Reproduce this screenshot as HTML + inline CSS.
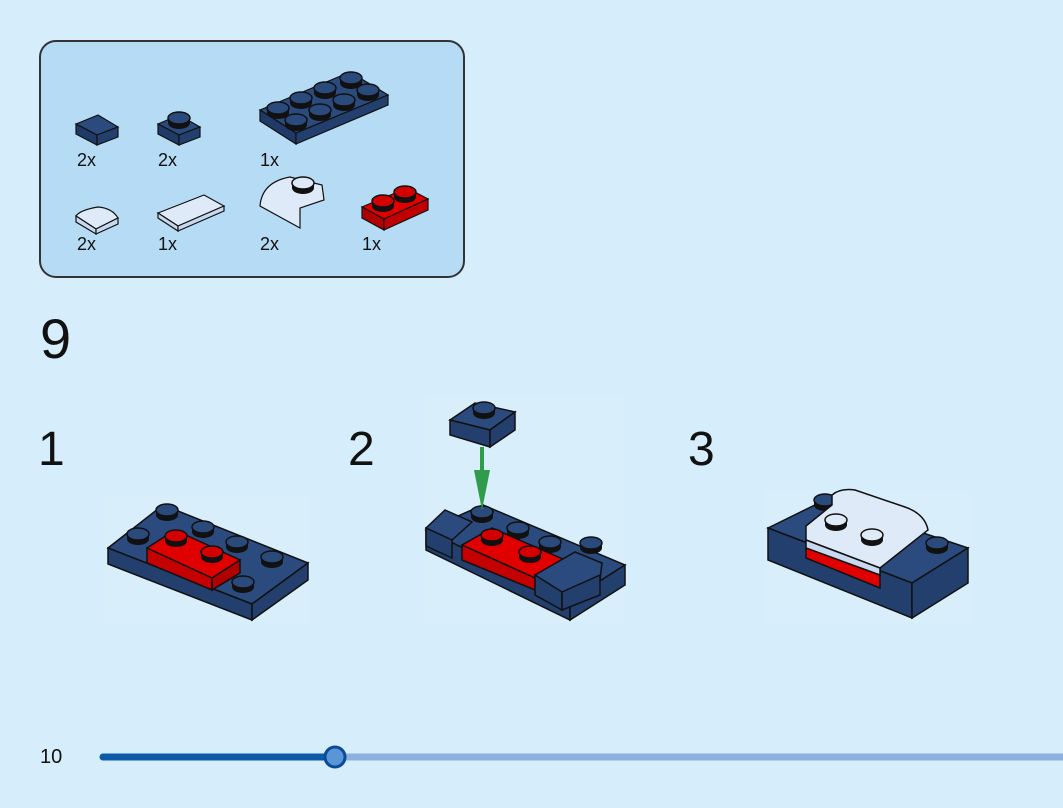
<!DOCTYPE html>
<html><head><style>
body{margin:0;width:1063px;height:803px;background:#d6edfb;overflow:hidden;font-family:"Liberation Sans",sans-serif;}
</style></head><body>
<svg width="1063" height="803" viewBox="0 0 1063 803" xmlns="http://www.w3.org/2000/svg" font-family="Liberation Sans, sans-serif">
<defs>
<g id="stud"><ellipse cx="0" cy="5" rx="11" ry="6" fill="#111"/><rect x="-11" y="0" width="22" height="5" fill="#111"/><ellipse cx="0" cy="0" rx="11" ry="6" fill="#2a4a7c" stroke="#111" stroke-width="1.5"/></g>
<g id="rstud"><ellipse cx="0" cy="5" rx="11" ry="6" fill="#111"/><rect x="-11" y="0" width="22" height="5" fill="#111"/><ellipse cx="0" cy="0" rx="11" ry="6" fill="#d40000" stroke="#111" stroke-width="1.5"/></g>
<g id="wstud"><ellipse cx="0" cy="5" rx="11" ry="6" fill="#111"/><rect x="-11" y="0" width="22" height="5" fill="#111"/><ellipse cx="0" cy="0" rx="11" ry="6" fill="#dfeaf8" stroke="#111" stroke-width="1.5"/></g>
</defs>
<rect x="40" y="41" width="424" height="236" rx="16" fill="#b6dbf5" stroke="#333" stroke-width="2"/>
<g stroke="#111" stroke-width="1.2">
<polygon points="76,124 98,115 118,127 97,135" fill="#2b4a7d"/><polygon points="76,124 97,135 97,145 76,134" fill="#1f3a66"/><polygon points="97,135 118,127 118,137 97,145" fill="#233f6e"/>
<polygon points="158,124 179,115 200,127 179,135" fill="#2b4a7d"/><polygon points="158,124 179,135 179,145 158,134" fill="#1f3a66"/><polygon points="179,135 200,127 200,137 179,145" fill="#233f6e"/>
<polygon points="260,110 350,72 388,95 296,133" fill="#2b4a7d"/><polygon points="260,110 296,133 296,144 260,121" fill="#1f3a66"/><polygon points="296,133 388,95 388,105 296,144" fill="#233f6e"/>
<path d="M76,216 Q80,210 98,207 Q112,208 118,218 L96,229 Z" fill="#dfeaf8"/><polygon points="76,216 96,229 96,234 76,222" fill="#c8d9ef"/><polygon points="96,229 118,218 118,224 96,234" fill="#c8d9ef"/>
<polygon points="158,213 204,195 224,206 178,226" fill="#dfeaf8"/><polygon points="158,213 178,226 178,231 158,218" fill="#c8d9ef"/><polygon points="178,226 224,206 224,211 178,231" fill="#c8d9ef"/>
<path d="M260,206 Q262,182 290,177 L322,185 L324,200 L300,208 L300,228 Z" fill="#dfeaf8"/>
<polygon points="362,207 407,188 428,199 384,219" fill="#e00000"/><polygon points="362,207 384,219 384,230 362,218" fill="#b00000"/><polygon points="384,219 428,199 428,210 384,230" fill="#c00000"/>
</g>
<use href="#stud" x="179" y="118"/>
<use href="#stud" x="278" y="108"/>
<use href="#stud" x="301" y="98"/><use href="#stud" x="325" y="88"/><use href="#stud" x="351" y="78"/>
<use href="#stud" x="296" y="120"/><use href="#stud" x="320" y="110"/><use href="#stud" x="344" y="100"/><use href="#stud" x="368" y="90"/>
<use href="#wstud" x="303" y="183"/>
<use href="#rstud" x="383" y="201"/><use href="#rstud" x="405" y="192"/>
<g font-size="18" fill="#111">
<text x="77" y="166">2x</text><text x="158" y="166">2x</text><text x="260" y="166">1x</text>
<text x="77" y="250">2x</text><text x="158" y="250">1x</text><text x="260" y="250">2x</text><text x="362" y="250">1x</text>
</g>
<text x="40" y="358" font-size="56" fill="#111">9</text>
<text x="38" y="465" font-size="48" fill="#111">1</text>
<text x="348" y="465" font-size="48" fill="#111">2</text>
<text x="688" y="465" font-size="48" fill="#111">3</text>
<rect x="105" y="495" width="205" height="128" fill="#d9eefb"/>
<rect x="425" y="395" width="200" height="228" fill="#d9eefb"/>
<rect x="765" y="490" width="205" height="133" fill="#d9eefb"/>
<g stroke="#111" stroke-width="1.5">
<polygon points="108,548 163,505 308,563 252,604" fill="#2b4a7d"/>
<polygon points="108,548 252,604 252,620 108,564" fill="#223f6e"/>
<polygon points="252,604 308,563 308,580 252,620" fill="#223f6e"/>
</g>
<use href="#stud" x="167" y="510"/><use href="#stud" x="138" y="534"/><use href="#stud" x="203" y="527"/><use href="#stud" x="237" y="542"/><use href="#stud" x="272" y="557"/><use href="#stud" x="243" y="582"/>
<g stroke="#111" stroke-width="1.5">
<polygon points="147,548 175,530 240,560 212,578" fill="#e00000"/>
<polygon points="147,548 212,578 212,590 147,563" fill="#c40000"/>
<polygon points="212,578 240,560 240,573 212,590" fill="#b00000"/>
</g>
<use href="#rstud" x="176" y="536"/><use href="#rstud" x="212" y="552"/>
<g stroke="#111" stroke-width="1.5">
<polygon points="426,530 483,505 625,565 570,600" fill="#2b4a7d"/>
<polygon points="426,530 570,600 570,620 426,550" fill="#223f6e"/>
<polygon points="570,600 625,565 625,585 570,620" fill="#223f6e"/>
</g>
<use href="#stud" x="482" y="512"/><use href="#stud" x="518" y="528"/><use href="#stud" x="550" y="542"/>
<g stroke="#111" stroke-width="1.5">
<polygon points="426,528 445,510 472,522 452,540" fill="#2b4a7d"/>
<polygon points="426,528 452,540 452,558 426,546" fill="#223f6e"/>
<polygon points="462,545 492,528 565,560 535,578" fill="#e00000"/>
<polygon points="462,545 535,578 535,590 462,560" fill="#c40000"/>
<polygon points="535,575 575,552 602,563 600,580 562,595" fill="#2b4a7d"/>
<polygon points="535,575 562,592 562,610 535,595" fill="#223f6e"/>
<polygon points="562,592 600,575 600,595 562,610" fill="#223f6e"/>
</g>
<use href="#rstud" x="492" y="535"/><use href="#rstud" x="530" y="552"/><use href="#stud" x="591" y="543"/>
<g stroke="#111" stroke-width="1.5">
<polygon points="450,420 475,403 515,412 490,430" fill="#2b4a7d"/>
<polygon points="450,420 490,430 490,447 450,435" fill="#223f6e"/>
<polygon points="490,430 515,412 515,430 490,447" fill="#223f6e"/>
</g>
<use href="#stud" x="484" y="408"/>
<rect x="480" y="447" width="4" height="40" fill="#2f9b4b"/>
<polygon points="474,470 490,470 482,510" fill="#2f9b4b"/>
<g stroke="#111" stroke-width="1.5">
<polygon points="768,528 825,500 968,548 912,583" fill="#2b4a7d"/>
<polygon points="768,528 912,583 912,618 768,560" fill="#223f6e"/>
<polygon points="912,583 968,548 968,583 912,618" fill="#223f6e"/>
</g>
<use href="#stud" x="825" y="500"/><use href="#stud" x="937" y="543"/>
<g stroke="#111" stroke-width="1.5">
<polygon points="806,540 880,568 880,588 806,558" fill="#e00000"/>
<path d="M806,526 L832,505 L832,495 Q840,488 855,490 L905,507 Q925,514 928,530 L880,568 L806,540 Z" fill="#dfeaf8"/>
<polygon points="806,540 880,568 880,575 806,548" fill="#c8d9ef"/>
</g>
<use href="#wstud" x="836" y="520"/><use href="#wstud" x="872" y="535"/>
<text x="40" y="763" font-size="20" fill="#111">10</text>
<line x1="335" y1="757" x2="1063" y2="757" stroke="#8cb0e0" stroke-width="7"/>
<line x1="103" y1="757" x2="335" y2="757" stroke="#0a5aa8" stroke-width="7" stroke-linecap="round"/>
<circle cx="335" cy="757" r="10" fill="#5a95d8" stroke="#0a4a98" stroke-width="3"/>
</svg>
</body></html>
